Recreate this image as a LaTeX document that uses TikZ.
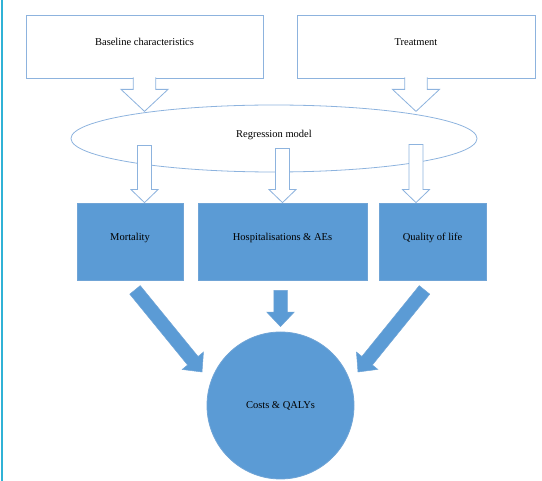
\documentclass[tikz,border=0pt]{standalone}
\usepackage{fontspec}
\setmainfont{Liberation Serif}
\usetikzlibrary{calc,shapes.geometric}

\definecolor{lineblue}{RGB}{141,179,222}
\definecolor{boxblue}{RGB}{91,155,213}
\definecolor{edgeblue}{RGB}{112,164,214}
\definecolor{sideblue}{RGB}{48,178,214}

% outline of a block arrow: from, to, half shaft, half head, head length
\newcommand{\arrowshape}[5]{%
  ($(#1)!#3!90:(#2)$) -- ($(#2)!#5!(#1)!#3!90:(#2)$)
  -- ($(#2)!#5!(#1)!#4!90:(#2)$) -- (#2)
  -- ($(#2)!#5!(#1)!#4!-90:(#2)$) -- ($(#2)!#5!(#1)!#3!-90:(#2)$)
  -- ($(#1)!#3!-90:(#2)$)}

\tikzset{
  raised/.style={text height=7pt, text depth=9pt},
  whitebox/.style={draw=lineblue, line width=0.8pt, fill=white, raised,
    minimum width=#1, minimum height=63pt, inner sep=0pt},
  bluebox/.style={draw=edgeblue, line width=0.8pt, fill=boxblue, raised,
    minimum width=#1, minimum height=77pt, inner sep=0pt},
}

\begin{document}
\begin{tikzpicture}[x=1pt, y=-1pt, font=\fontsize{10.5}{12}\selectfont]
    \useasboundingbox (0,0) rectangle (542,481);

    % frame line on the left
    \draw[sideblue, line width=2pt] (1.5,0) -- (1.5,481);

    % inputs
    \node[whitebox=237pt] (base) at (144.5,46.5) {Baseline characteristics};
    \node[whitebox=238pt] (treat) at (416,46.5) {Treatment};

    % regression model
    \node[ellipse, draw=lineblue, line width=0.8pt, minimum width=406pt, raised,
      minimum height=67pt, inner sep=0pt] (regr) at (274,138.5) {Regression model};

    % open arrows into the model
    \coordinate (b0) at ($(base.south)+(0,-1)$);
    \coordinate (b1) at ($(base.south)+(0,33)$);
    \coordinate (t0) at ($(treat.south)+(0,-1)$);
    \coordinate (t1) at ($(treat.south)+(0,33)$);
    \foreach \a/\b in {b0/b1, t0/t1} {
        \fill[white] \arrowshape{\a}{\b}{11.25pt}{23.5pt}{22pt} -- cycle;
        \draw[lineblue, line width=0.8pt] \arrowshape{\a}{\b}{11.25pt}{23.5pt}{22pt};
    }

    % outcomes
    \node[bluebox=106pt] (mort) at (130,241.5) {Mortality};
    \node[bluebox=169pt] (hosp) at (282.5,241.5) {Hospitalisations \& AEs};
    \node[bluebox=107pt] (qol) at (432.5,241.5) {Quality of life};

    % open arrows out of the model
    \coordinate (m1) at (base.south |- mort.north);
    \coordinate (m0) at ($(m1)+(0,-57)$);
    \coordinate (h1) at (hosp.north);
    \coordinate (h0) at ($(h1)+(0,-54)$);
    \coordinate (q1) at (treat.south |- qol.north);
    \coordinate (q0) at ($(q1)+(0,-58)$);
    \foreach \a/\b in {m0/m1, h0/h1, q0/q1}
        \filldraw[fill=white, draw=lineblue, line width=0.8pt]
            \arrowshape{\a}{\b}{7pt}{13.5pt}{13pt} -- cycle;

    % costs and QALYs
    \node[circle, fill=boxblue, draw=edgeblue, line width=0.8pt, minimum size=147pt,
      inner sep=0pt] (costs) at (280.5,405.5) {Costs \& QALYs};

    % solid arrows
    \coordinate (mt) at ($(mort.south)+(5,9.5)$);
    \coordinate (mb) at ($(costs.center)+(-78.5,-33.5)$);
    \coordinate (ht) at ($(costs.north |- hosp.south)+(0,10)$);
    \coordinate (hb) at ($(costs.north)+(0,-5)$);
    \coordinate (qt) at ($(qol.south)+(-8,9.5)$);
    \coordinate (qb) at ($(costs.center)+(77.5,-33.5)$);
    \foreach \a/\b in {mt/mb, ht/hb, qt/qb}
        \filldraw[fill=boxblue, draw=edgeblue, line width=0.5pt]
            \arrowshape{\a}{\b}{6.75pt}{13.75pt}{14.5pt} -- cycle;
\end{tikzpicture}
\end{document}
